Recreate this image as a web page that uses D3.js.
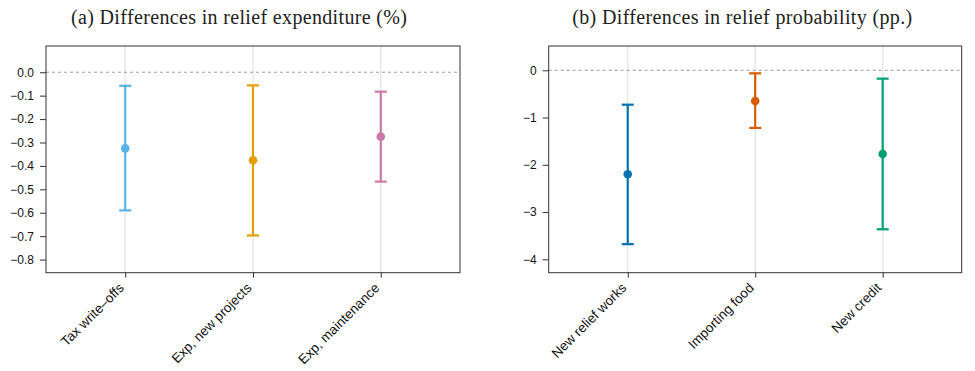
<!DOCTYPE html>
<html>
<head>
<meta charset="utf-8">
<script src="https://cdn.jsdelivr.net/npm/d3@7"></script>
<style>
  body { margin: 0; background: #fff; }
  svg { display: block; }
</style>
</head>
<body>
<svg id="chart" width="975" height="371"></svg>
<script>
// panel (a): relief expenditure
const expCats = ["Tax write\u2013offs", "Exp, new projects", "Exp, maintenance"];
const expEst = [-0.325, -0.376, -0.275];
const expLo = [-0.590, -0.697, -0.467];
const expHi = [-0.058, -0.056, -0.083];
const expColors = ["#56B4E9", "#E69F00", "#CC79A7"];
const expTicks = [0.0, -0.1, -0.2, -0.3, -0.4, -0.5, -0.6, -0.7, -0.8];

// panel (b): relief probability
const probCats = ["New relief works", "Importing food", "New credit"];
const probEst = [-2.20, -0.65, -1.77];
const probLo = [-3.68, -1.22, -3.365];
const probHi = [-0.728, -0.064, -0.177];
const probColors = ["#0072B2", "#D55E00", "#009E73"];
const probTicks = [0, -1, -2, -3, -4];

const svg = d3.select("#chart");

function drawPanel(opts) {
    const g = svg.append("g");
    const x = d3.scaleLinear().domain([0.38, 3.62]).range([opts.left, opts.right]);
    const y = d3.scaleLinear().domain(opts.ydom).range([272.7, 46]);

    // title
    g.append("text")
        .attr("x", (opts.left + opts.right) / 2 + opts.titleShift)
        .attr("y", 24)
        .attr("text-anchor", "middle")
        .attr("textLength", opts.titleLen)
        .attr("lengthAdjust", "spacing")
        .style("font-family", "'Liberation Serif', 'Times New Roman', serif")
        .style("font-size", "20px")
        .attr("fill", "#222")
        .text(opts.title);

    // vertical grid at categories
    g.selectAll(".grid")
        .data(opts.cats)
        .enter().append("line")
            .attr("x1", (d, i) => x(i + 1))
            .attr("x2", (d, i) => x(i + 1))
            .attr("y1", y.range()[1])
            .attr("y2", y.range()[0])
            .attr("stroke", "#e8e8e8")
            .attr("stroke-width", 1.5);

    // zero line
    g.append("line")
        .attr("x1", opts.left).attr("x2", opts.right)
        .attr("y1", y(0)).attr("y2", y(0))
        .attr("stroke", "#999")
        .attr("stroke-width", 1)
        .attr("stroke-dasharray", "3,3");

    // error bars
    const bars = g.selectAll(".bar")
        .data(opts.est)
        .enter().append("g");
    bars.append("line")
        .attr("x1", (d, i) => x(i + 1)).attr("x2", (d, i) => x(i + 1))
        .attr("y1", (d, i) => y(opts.lo[i])).attr("y2", (d, i) => y(opts.hi[i]))
        .attr("stroke", (d, i) => opts.colors[i])
        .attr("stroke-width", 2.2);
    ["lo", "hi"].forEach(k => {
        bars.append("line")
            .attr("x1", (d, i) => x(i + 1) - 6).attr("x2", (d, i) => x(i + 1) + 6)
            .attr("y1", (d, i) => y(opts[k][i])).attr("y2", (d, i) => y(opts[k][i]))
            .attr("stroke", (d, i) => opts.colors[i])
            .attr("stroke-width", 2.2);
    });
    bars.append("circle")
        .attr("cx", (d, i) => x(i + 1))
        .attr("cy", d => y(d))
        .attr("r", 4.3)
        .attr("fill", (d, i) => opts.colors[i]);

    // frame
    g.append("rect")
        .attr("x", opts.left).attr("y", 46)
        .attr("width", opts.right - opts.left)
        .attr("height", 272.7 - 46)
        .attr("fill", "none")
        .attr("stroke", "#333")
        .attr("stroke-width", 1);

    // y axis
    const yAxis = d3.axisLeft(y)
        .tickValues(opts.ticks)
        .tickSize(6)
        .tickPadding(6)
        .tickFormat(d => opts.fmt(d).replace("-", "\u2212"));
    g.append("g")
        .attr("transform", `translate(${opts.left},0)`)
        .call(yAxis)
        .attr("font-family", null)
        .call(a => a.select(".domain").remove())
        .call(a => a.selectAll("line").attr("stroke", "#333"))
        .call(a => a.selectAll("text")
            .style("font-family", "'Liberation Sans', Arial, sans-serif")
            .style("font-size", "12px")
            .attr("fill", "#111"));

    // x axis
    const xAxis = d3.axisBottom(x)
        .tickValues([1, 2, 3])
        .tickSize(5)
        .tickFormat((d, i) => opts.cats[i]);
    g.append("g")
        .attr("transform", `translate(0,272.7)`)
        .call(xAxis)
        .attr("font-family", null)
        .call(a => a.select(".domain").remove())
        .call(a => a.selectAll("line").attr("stroke", "#333"))
        .call(a => a.selectAll("text")
            .style("font-family", "'Liberation Sans', Arial, sans-serif")
            .style("font-size", "13.5px")
            .attr("fill", "#111")
            .attr("text-anchor", "end")
            .attr("x", 0).attr("y", 0).attr("dy", 0)
            .attr("transform", "translate(-1,16) rotate(-45)"));
}

drawPanel({
    title: "(a) Differences in relief expenditure (%)",
    titleShift: -14,
    titleLen: 336,
    left: 46, right: 460,
    ydom: [-0.856, 0.112],
    ticks: expTicks,
    fmt: d3.format(".1f"),
    cats: expCats, est: expEst, lo: expLo, hi: expHi, colors: expColors
});

drawPanel({
    title: "(b) Differences in relief probability (pp.)",
    titleShift: -13,
    titleLen: 340,
    left: 548.7, right: 961.7,
    ydom: [-4.284, 0.514],
    ticks: probTicks,
    fmt: d3.format("d"),
    cats: probCats, est: probEst, lo: probLo, hi: probHi, colors: probColors
});
</script>
</body>
</html>
